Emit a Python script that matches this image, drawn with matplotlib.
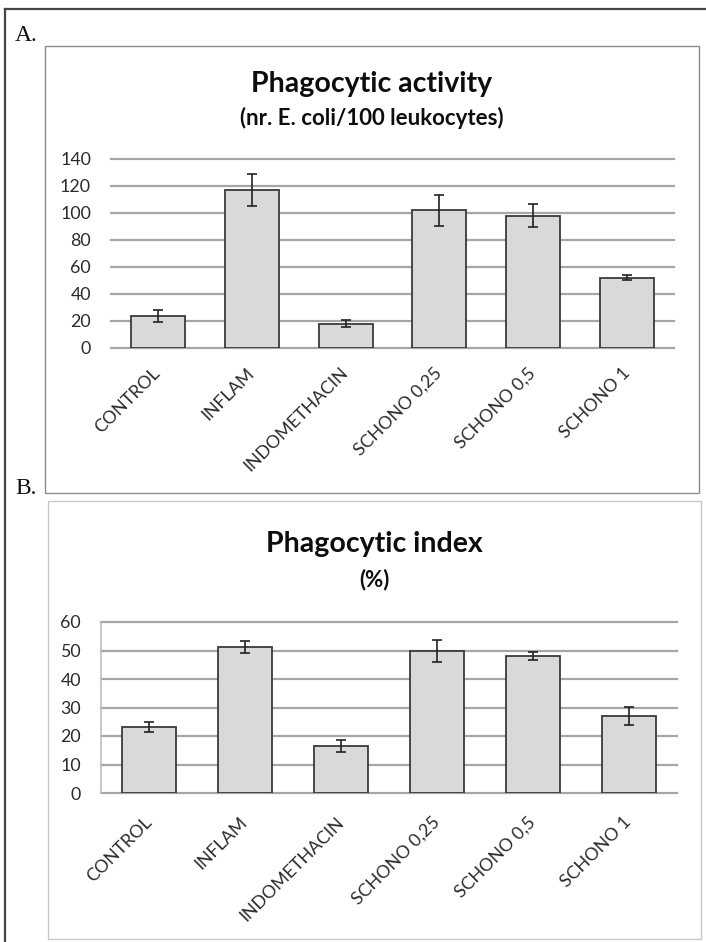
import numpy as np
import matplotlib.pyplot as plt
from matplotlib.patches import Rectangle
from matplotlib.lines import Line2D

# data
groups = ['CONTROL', 'INFLAM', 'INDOMETHACIN', 'SCHONO 0,25', 'SCHONO 0,5', 'SCHONO 1']
activity = [24, 117, 18, 102, 98, 52]
activity_err = [4.4, 12, 2.8, 11.6, 8.7, 1.8]
index_pct = [23.2, 51.1, 16.5, 49.8, 48, 27]
index_err = [1.8, 2.1, 2.2, 4.0, 1.5, 3.2]
ticks_a = [0, 20, 40, 60, 80, 100, 120, 140]
ticks_b = [0, 10, 20, 30, 40, 50, 60]

W, H = 706, 942
plt.rcParams['font.family'] = ['Lato', 'DejaVu Sans']

fig = plt.figure(figsize=(W / 100, H / 100), dpi=100)


def rect(x0, y0, x1, y1):
    # pixel box (top-left origin) -> figure fraction
    return [x0 / W, 1 - y1 / H, (x1 - x0) / W, (y1 - y0) / H]


def fx(x):
    return x / W


def fy(y):
    return 1 - y / H


def bar_panel(ax, vals, errs, ticks, width, xpad, left_spine):
    x = np.arange(len(groups))
    ax.bar(x, vals, width=width, color='#d9d9d9', edgecolor='#3a3a3a',
           linewidth=1.3, zorder=2)
    ax.errorbar(x, vals, yerr=errs, fmt='none', ecolor='#222222',
                elinewidth=1.2, capsize=3.6, capthick=1.2, zorder=3)
    ax.set_xlim(-0.5, len(groups) - 0.5)
    ax.set_ylim(ticks[0], ticks[-1])
    ax.set_yticks(ticks)
    ax.set_xticks(x)
    ax.set_xticklabels(groups, rotation=45, ha='right', va='center',
                       rotation_mode='anchor')
    ax.tick_params(axis='both', length=0, labelsize=12.8, colors='#2b2b2b')
    ax.tick_params(axis='y', pad=14.4)
    ax.tick_params(axis='x', pad=xpad)
    ax.yaxis.grid(True, color='#a6a6a6', linewidth=1.6)
    for gl in ax.get_ygridlines():
        gl.set_clip_on(False)
    ax.set_axisbelow(True)
    for name, sp in ax.spines.items():
        sp.set_visible(False)
    if left_spine:
        ax.spines['left'].set_visible(True)
        ax.spines['left'].set_color('#bfbfbf')
        ax.spines['left'].set_linewidth(1.2)
    ax.patch.set_alpha(0)


# outer frame (left and top only)
fig.add_artist(Line2D([fx(4.5), fx(4.5)], [0, fy(8.7)], color='#444444', lw=1.6))
fig.add_artist(Line2D([fx(4.5), 1], [fy(8.7), fy(8.7)], color='#444444', lw=1.6))

# panel boxes
fig.add_artist(Rectangle((fx(45), fy(493)), (699 - 45) / W, (493 - 46) / H,
                         transform=fig.transFigure, fill=False,
                         edgecolor='#8c8c8c', lw=1.0))
fig.add_artist(Rectangle((fx(48), fy(939)), (701 - 48) / W, (939 - 501) / H,
                         transform=fig.transFigure, fill=False,
                         edgecolor='#c8c8c8', lw=1.0))

axA = fig.add_axes(rect(111, 159, 674, 348))
bar_panel(axA, activity, activity_err, ticks_a, 0.575, 16, False)

axB = fig.add_axes(rect(101, 622, 677, 793))
bar_panel(axB, index_pct, index_err, ticks_b, 0.56, 19, True)

# titles
fig.text(fx(372), fy(92), 'Phagocytic activity', ha='center', va='baseline',
         fontsize=20.5, fontweight='bold', color='#0d0d0d')
fig.text(fx(372), fy(125), '(nr. E. coli/100 leukocytes)', ha='center',
         va='baseline', fontsize=16, fontweight='bold', color='#0d0d0d')
fig.text(fx(374), fy(552), 'Phagocytic index', ha='center', va='baseline',
         fontsize=20.5, fontweight='bold', color='#0d0d0d')
fig.text(fx(374), fy(586), '(%)', ha='center', va='baseline',
         fontsize=16, fontweight='bold', color='#0d0d0d')

# panel letters
fig.text(fx(15), fy(41), 'A.', family='Liberation Serif', fontsize=17,
         va='baseline', color='#111111')
fig.text(fx(15), fy(494), 'B.', family='Liberation Serif', fontsize=17,
         va='baseline', color='#111111')

fig.savefig('out.png', dpi=100)
